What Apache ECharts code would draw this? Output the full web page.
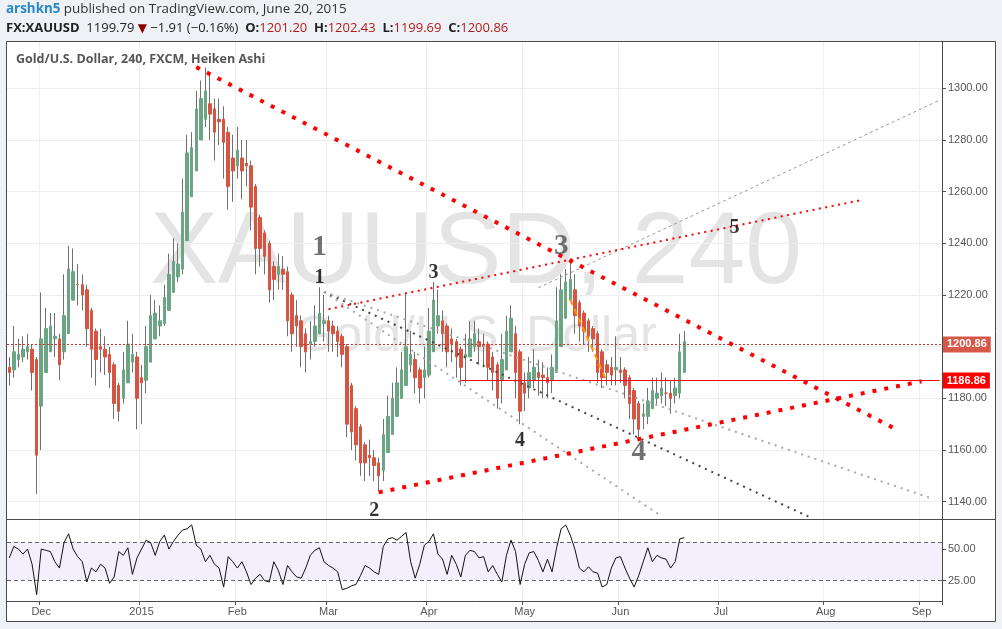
<!DOCTYPE html>
<html><head><meta charset="utf-8">
<script src="https://cdn.jsdelivr.net/npm/echarts@6/dist/echarts.min.js"></script>
<style>html,body{margin:0;padding:0;background:#fff;}#c{width:1002px;height:629px;}</style>
</head><body><div id="c"></div>
<script>
// ---------- DATA ----------
const startDate = '2014-11-20';
const endDate = '2015-09-07';
const holidays = ['2014-12-25', '2015-01-01', '2015-04-03'];

// Heiken Ashi daily candles: [open, close, low, high]
const candles = [
[1192,1190,1185,1196],[1191,1198,1188,1208],[1195,1197,1192,1203],[1196,1199,1194,1204],[1198,1200,1195,1205],
[1199,1190,1183,1201],[1195,1158,1143,1196],[1177,1203,1160,1221],[1190,1207,1196,1215],[1198,1208,1198,1213],
[1203,1204,1196,1213],[1203,1193,1187,1205],[1198,1212,1195,1228],[1205,1230,1205,1239],[1218,1229,1218,1238],
[1224,1224,1216,1232],[1224,1220,1214,1228],[1222,1207,1200,1224],[1214,1199,1188,1215],[1206,1195,1185,1207],
[1200,1199,1190,1207],[1199,1196,1189,1204],[1197,1190,1184,1200],[1193,1178,1172,1194],[1185,1175,1171,1186],
[1180,1191,1178,1198],[1186,1201,1186,1210],[1194,1197,1190,1205],[1196,1180,1168,1198],[1188,1186,1170,1193],
[1187,1200,1182,1208],[1194,1212,1194,1220],[1203,1213,1203,1218],[1208,1210,1204,1216],[1209,1219,1208,1224],
[1214,1228,1214,1236],[1221,1233,1221,1242],[1227,1232,1225,1240],[1230,1252,1228,1265],[1241,1275,1241,1282],
[1258,1277,1258,1283],[1268,1292,1268,1299],[1280,1296,1280,1303],[1288,1299,1285,1308],[1294,1290,1280,1306],
[1292,1283,1272,1296],[1288,1287,1278,1296],[1288,1279,1265,1293],[1283,1262,1253,1285],[1273,1268,1256,1282],
[1270,1276,1265,1285],[1273,1268,1257,1280],[1271,1270,1262,1280],[1270,1254,1245,1272],[1262,1238,1228,1263],
[1250,1238,1231,1251],[1244,1235,1228,1245],[1240,1222,1217,1241],[1231,1226,1218,1233],[1228,1231,1222,1236],
[1230,1228,1222,1235],[1229,1210,1204,1231],[1220,1205,1198,1221],[1212,1208,1200,1218],[1210,1200,1192,1212],
[1205,1198,1190,1207],[1201,1202,1195,1210],[1202,1208,1200,1216],[1205,1213,1205,1223],[1209,1210,1202,1220],
[1210,1206,1198,1212],[1208,1205,1198,1210],[1206,1202,1196,1208],[1204,1197,1192,1205],[1200,1170,1165,1201],
[1185,1167,1160,1186],[1176,1162,1156,1177],[1169,1155,1150,1170],[1162,1155,1148,1163],[1158,1157,1150,1164],
[1157,1154,1148,1160],[1155,1150,1144,1157],[1152,1166,1148,1172],[1159,1173,1159,1181],[1166,1180,1166,1186],
[1173,1186,1173,1192],[1180,1191,1180,1198],[1185,1200,1185,1221],[1193,1197,1190,1206],[1195,1188,1182,1198],
[1191,1184,1178,1192],[1188,1191,1180,1200],[1189,1206,1188,1215],[1198,1218,1198,1225],[1208,1212,1205,1222],
[1210,1205,1198,1214],[1208,1198,1192,1209],[1203,1201,1194,1207],[1202,1196,1188,1203],[1199,1192,1185,1200],
[1196,1197,1186,1205],[1196,1203,1196,1210],[1200,1205,1198,1210],[1202,1200,1193,1207],[1201,1200,1192,1205],
[1201,1192,1187,1202],[1196,1190,1183,1198],[1193,1180,1176,1194],[1187,1195,1178,1205],[1191,1206,1191,1212],
[1198,1211,1198,1216],[1205,1190,1180,1208],[1198,1175,1170,1199],[1186,1182,1175,1190],[1184,1190,1180,1196],
[1187,1192,1184,1199],[1190,1188,1181,1195],[1189,1188,1180,1194],[1188,1186,1180,1192],[1187,1192,1182,1197],
[1190,1210,1190,1223],[1200,1222,1200,1228],[1211,1225,1211,1230],[1218,1226,1218,1233],[1222,1212,1205,1228],
[1217,1208,1202,1218],[1213,1206,1201,1214],[1210,1204,1198,1211],[1207,1203,1198,1208],[1205,1190,1186,1206],
[1198,1188,1184,1199],[1193,1190,1185,1195],[1192,1189,1185,1196],[1191,1192,1185,1204],[1191,1190,1186,1196],
[1191,1185,1180,1192],[1188,1178,1172,1189],[1183,1172,1166,1184],[1178,1168,1164,1179],[1173,1174,1168,1178],
[1173,1179,1170,1184],[1176,1183,1176,1188],[1180,1182,1177,1188],[1181,1184,1178,1190],[1182,1182,1177,1188],
[1182,1180,1174,1187],[1181,1184,1178,1188],[1182,1198,1180,1205],[1190,1202,1190,1206]
];

const rsi = [
43,52,50,46,50,38,14,50,49,48,40,35,55,62,50,44,40,24,35,32,
38,35,23,28,48,45,51,30,43,50,57,55,45,56,61,50,56,61,65,66,
69,53,50,40,45,38,35,20,44,40,35,40,32,22,27,30,25,24,40,33,
22,37,32,28,27,35,45,49,51,40,37,35,32,18,19,21,22,29,37,35,
32,30,52,58,59,57,60,63,40,27,38,53,56,62,46,42,30,45,38,28,
45,49,48,43,44,32,37,30,24,45,57,48,22,38,47,48,41,32,42,32,
51,66,69,61,50,35,32,36,32,31,20,22,35,43,44,35,27,20,29,40,
51,40,45,43,42,35,40,58,59
];

const priceTicks = [1140, 1160, 1180, 1200, 1220, 1240, 1260, 1280, 1300];
const rsiTicks = [25, 50];
const rsiBand = [25.5, 55.3];
const lastPrice = 1200.86;
const levelPrice = 1186.86;
const levelStart = '2015-04-13';

// trend lines: [date, price] endpoints
const redDownTrend = [['2015-01-20', 1308.2], ['2015-08-25', 1167.5]];
const redUpTrend = [['2015-03-17', 1143.6], ['2015-09-01', 1186.6]];
const redThinTrend = [['2015-03-02', 1214.5], ['2015-08-13', 1256.8]];
const grayFanSteep = [['2015-02-27', 1221.2], ['2015-06-12', 1134.4]];
const grayFanDark = [['2015-02-27', 1221.2], ['2015-07-29', 1133.6]];
const grayFanFlat = [['2015-02-27', 1221.2], ['2015-09-03', 1141.4]];
const grayUpper = [['2015-05-06', 1222.8], ['2015-09-07', 1295.4]];
const orangeSeg = [['2015-05-15', 1218.2], ['2015-05-27', 1186.6]];

// wave labels: [text, date, price]
const waveSmall = [['1', '2015-02-26', 1226.7], ['2', '2015-03-16', 1136.4], ['3', '2015-04-02', 1228.5], ['4', '2015-04-30', 1163.4], ['5', '2015-07-06', 1245.9]];
const waveBig = [['1', '2015-02-26', 1238.3], ['3', '2015-05-13', 1238.8], ['4', '2015-06-05', 1158.9]];

// ---------- BUILD ----------
function buildDates(start, end, skip) {
  const out = [];
  let t = Date.parse(start + 'T00:00:00Z');
  const e = Date.parse(end + 'T00:00:00Z');
  while (t <= e) {
    const d = new Date(t);
    const wd = d.getUTCDay();
    const s = d.toISOString().slice(0, 10);
    if (wd !== 0 && wd !== 6 && skip.indexOf(s) < 0) out.push(s);
    t += 86400000;
  }
  return out;
}
const dates = buildDates(startDate, endDate, holidays);
const idx = d => dates.indexOf(d);
const seg = arr => arr.map(p => [idx(p[0]), p[1]]);
const monthNames = ['Jan','Feb','Mar','Apr','May','Jun','Jul','Aug','Sep','Oct','Nov','Dec'];
const isMonthStart = (i) => i > 0 && i < dates.length && dates[i].slice(0, 7) !== dates[i - 1].slice(0, 7);
const monthLabel = (v) => { const m = +v.slice(5, 7); return m === 1 ? v.slice(0, 4) : monthNames[m - 1]; };

const bodies = candles.map(c => [c[0], c[1], Math.min(c[0], c[1]), Math.max(c[0], c[1])]);

const chart = echarts.init(document.getElementById('c'), null, {renderer: 'canvas'});
const FONT = 'Liberation Sans';
const OUTER = '#eef1f5';

function trend(data, color, width, dash, z) {
  return {type: 'line', xAxisIndex: 0, yAxisIndex: 0, data: seg(data), showSymbol: false, symbol: 'none', silent: true,
    lineStyle: {color: color, width: width, type: dash, cap: 'butt'}, z: z || 4, animation: false};
}
function waves(list, size, color) {
  return {type: 'scatter', xAxisIndex: 0, yAxisIndex: 0, silent: true, symbolSize: 2, itemStyle: {color: 'rgba(0,0,0,0)'}, z: 6,
    data: list.map(w => ({value: [idx(w[1]), w[2]], name: w[0]})),
    label: {show: true, position: 'inside', formatter: p => p.name, fontFamily: 'Liberation Serif', fontWeight: 'bold', fontSize: size, color: color, textBorderWidth: 0}};
}

const option = {
  animation: false,
  backgroundColor: '#ffffff',
  title: [
    {left: 6, top: 3, padding: 0, text: '{u|arshkn5} published on TradingView.com, June 20, 2015',
      textStyle: {fontFamily: 'Open Sans', fontSize: 13.4, fontWeight: 'normal', color: '#333',
        rich: {u: {fontFamily: 'Open Sans', fontSize: 13.4, fontWeight: 'bold', color: '#2a88c8'}}}},
    {left: 6, top: 22, padding: 0,
      text: '{b|FX:XAUUSD}  1199.79 {t|▼} −1.91 (−0.16%)  {b|O:}{r|1201.20}  {b|H:}{r|1202.43}  {b|L:}{r|1199.69}  {b|C:}{r|1200.86}',
      textStyle: {fontFamily: 'Open Sans', fontSize: 13, fontWeight: 'normal', color: '#222',
        rich: {b: {fontFamily: 'Open Sans', fontSize: 13, fontWeight: 'bold', color: '#222'},
               r: {fontFamily: 'Open Sans', fontSize: 13, color: '#b31b1b'},
               t: {fontFamily: 'DejaVu Sans', fontSize: 12, color: '#8b0000'}}}},
    {left: 16, top: 53, padding: 0, text: 'Gold/U.S. Dollar, 240, FXCM, Heiken Ashi',
      textStyle: {fontFamily: 'Open Sans', fontSize: 12.5, fontWeight: 'bold', color: '#555'}}
  ],
  grid: [
    {left: 7, top: 42, width: 935, height: 477},
    {left: 7, top: 519, width: 935, height: 82}
  ],
  xAxis: [
    {type: 'category', gridIndex: 0, data: dates, boundaryGap: true,
      axisLine: {show: false}, axisTick: {show: false}, axisLabel: {show: false},
      splitLine: {show: true, interval: (i) => isMonthStart(i), lineStyle: {color: '#efefef', width: 1}}},
    {type: 'category', gridIndex: 1, data: dates, boundaryGap: true,
      axisLine: {show: true, lineStyle: {color: '#4a4a4a', width: 1}},
      axisTick: {show: true, interval: (i) => isMonthStart(i), length: 4, lineStyle: {color: '#555'}},
      axisLabel: {show: true, interval: (i) => isMonthStart(i), formatter: v => monthLabel(v), color: '#555', fontSize: 11, fontFamily: FONT, margin: 5},
      splitLine: {show: true, interval: (i) => isMonthStart(i), lineStyle: {color: '#efefef', width: 1}}}
  ],
  yAxis: [
    {type: 'value', gridIndex: 0, position: 'right', min: 1133.3, max: 1317.9, scale: true,
      axisLine: {show: false},
      axisTick: {show: true, customValues: priceTicks, length: 4, lineStyle: {color: '#555'}},
      axisLabel: {show: true, customValues: priceTicks, formatter: v => (+v).toFixed(2), color: '#555', fontSize: 11, fontFamily: FONT, margin: 6},
      splitLine: {show: false}},
    {type: 'value', gridIndex: 1, position: 'right', min: 9, max: 73.7, scale: true,
      axisLine: {show: false},
      axisTick: {show: true, customValues: rsiTicks, length: 4, lineStyle: {color: '#555'}},
      axisLabel: {show: true, customValues: rsiTicks, formatter: v => (+v).toFixed(2), color: '#555', fontSize: 11, fontFamily: FONT, margin: 6},
      splitLine: {show: false}}
  ],
  series: [
    {name: 'wicks', type: 'candlestick', xAxisIndex: 0, yAxisIndex: 0, data: candles, barWidth: 1, silent: true, z: 2,
      itemStyle: {color: '#707070', color0: '#707070', borderColor: '#707070', borderColor0: '#707070', borderWidth: 1},
      markLine: {silent: true, symbol: 'none', z: 1, label: {show: false},
        lineStyle: {color: '#eeeeee', type: 'solid', width: 1},
        data: priceTicks.map(v => ({yAxis: v}))}},
    {name: 'bodies', type: 'candlestick', xAxisIndex: 0, yAxisIndex: 0, data: bodies, barWidth: 3, silent: true, z: 3,
      itemStyle: {color: '#6ba583', color0: '#d75442', borderColor: '#6ba583', borderColor0: '#d75442', borderWidth: 1},
      markLine: {silent: true, symbol: 'none', z: 5,
        data: [
          {yAxis: lastPrice, lineStyle: {color: '#c0392b', type: [2, 2], width: 1},
            label: {show: true, position: 'end', distance: 1, formatter: lastPrice.toFixed(2), backgroundColor: '#d6584a', color: '#fff', fontWeight: 'bold', fontSize: 11, fontFamily: FONT, padding: [3, 4, 2, 4]}},
          [{coord: [idx(levelStart), levelPrice], lineStyle: {color: '#ff0000', type: 'solid', width: 1},
            label: {show: true, position: 'end', distance: 3, formatter: levelPrice.toFixed(2), backgroundColor: '#ff0000', color: '#fff', fontWeight: 'bold', fontSize: 11, fontFamily: FONT, padding: [3, 4, 2, 4]}},
           {coord: [dates.length - 1, levelPrice]}]
        ]}},
    trend(grayFanSteep, '#a9a9a9', 2, [2, 5], 4),
    trend(grayFanDark, '#444444', 2, [2, 5], 4),
    trend(grayFanFlat, '#a9a9a9', 2, [2, 5], 4),
    trend(grayUpper, '#9a9a9a', 1, [3, 3], 4),
    trend(orangeSeg, '#ff9800', 2, [6, 4], 5),
    trend(redThinTrend, '#ff0000', 2, [2, 4.5], 5),
    trend(redDownTrend, '#ff0000', 4, [4, 8], 5),
    trend(redUpTrend, '#ff0000', 4, [4, 8], 5),
    waves(waveSmall, 20, '#000'),
    waves(waveBig, 29, '#4d4d4d'),
    {name: 'RSI', type: 'line', xAxisIndex: 1, yAxisIndex: 1, data: rsi, showSymbol: false, symbol: 'none', silent: true, z: 3,
      lineStyle: {color: '#111', width: 1},
      markArea: {silent: true, itemStyle: {color: '#f4effc'}, data: [[{yAxis: rsiBand[0]}, {yAxis: rsiBand[1]}]]},
      markLine: {silent: true, symbol: 'none', z: 2, label: {show: false}, lineStyle: {color: '#666', type: [4, 3], width: 1},
        data: rsiBand.map(v => ({yAxis: v}))}}
  ],
  graphic: [
    {type: 'rect', silent: true, z: 0, shape: {x: 0, y: 0, width: 1002, height: 42}, style: {fill: OUTER}},
    {type: 'rect', silent: true, z: 0, shape: {x: 0, y: 0, width: 7, height: 629}, style: {fill: OUTER}},
    {type: 'rect', silent: true, z: 0, shape: {x: 995.5, y: 0, width: 7, height: 629}, style: {fill: OUTER}},
    {type: 'rect', silent: true, z: 0, shape: {x: 0, y: 621.5, width: 1002, height: 8}, style: {fill: OUTER}},
    {type: 'text', silent: true, z: 1, x: 476, y: 255, style: {text: 'XAUUSD, 240', fontFamily: FONT, fontSize: 102, fill: '#e4e4e4', align: 'center', verticalAlign: 'middle'}},
    {type: 'text', silent: true, z: 1, x: 476, y: 337, style: {text: 'Gold/U.S. Dollar', fontFamily: FONT, fontSize: 50, fill: '#e4e4e4', align: 'center', verticalAlign: 'middle'}},
    {type: 'rect', silent: true, z: 100, shape: {x: 6.5, y: 41.5, width: 989, height: 580}, style: {fill: null, stroke: '#4a4a4a', lineWidth: 1}},
    {type: 'line', silent: true, z: 100, shape: {x1: 6.5, y1: 519.5, x2: 995.5, y2: 519.5}, style: {stroke: '#4a4a4a', lineWidth: 1}},
    {type: 'line', silent: true, z: 100, shape: {x1: 942.5, y1: 41.5, x2: 942.5, y2: 601.5}, style: {stroke: '#4a4a4a', lineWidth: 1}}
  ]
};
chart.setOption(option);
</script>
</body></html>
